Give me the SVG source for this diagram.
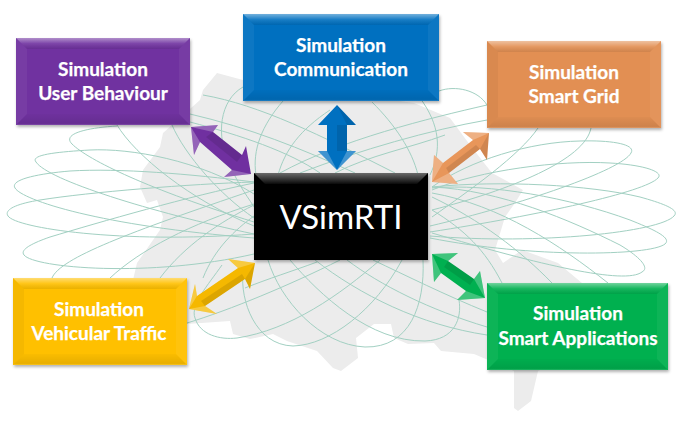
<svg xmlns="http://www.w3.org/2000/svg" width="682" height="422" viewBox="0 0 682 422">
<style>
.lbl{font-family:"Lato","Open Sans","Liberation Sans",sans-serif;font-weight:700;font-size:19px;fill:#fff;text-anchor:middle;stroke:#fff;stroke-width:.25}
.ttl{font-family:"Lato","Open Sans","Liberation Sans",sans-serif;font-size:33px;fill:#fff;text-anchor:middle}
.p{fill:none;stroke:#a2d0c2;stroke-width:1}
.hi{fill:#fff;opacity:.25}
.lo{fill:#000;opacity:.1}
.tp{fill:url(#tg)}
.bt{fill:url(#bg)}
.sd{fill:#fff;opacity:.05}
.sdk{fill:#000;opacity:.04}
</style>
<defs>
<filter id="sh" x="-10%" y="-10%" width="120%" height="125%"><feDropShadow dx="1" dy="2" stdDeviation="1.5" flood-color="#000" flood-opacity=".3"/></filter>
<linearGradient id="tg" x1="0" y1="0" x2="0" y2="1"><stop offset="0" stop-color="#fff" stop-opacity=".45"/><stop offset=".5" stop-color="#fff" stop-opacity=".1"/><stop offset="1" stop-color="#000" stop-opacity=".08"/></linearGradient>
<linearGradient id="bg" x1="0" y1="0" x2="0" y2="1"><stop offset="0" stop-color="#000" stop-opacity=".02"/><stop offset=".85" stop-color="#000" stop-opacity=".09"/><stop offset="1" stop-color="#fff" stop-opacity=".15"/></linearGradient>
<linearGradient id="kg" x1="0" y1="0" x2="0" y2="1"><stop offset="0" stop-color="#6a6a6a"/><stop offset="1" stop-color="#0a0a0a"/></linearGradient>
</defs>
<rect width="682" height="422" fill="#fff"/>
<path id="map" fill="#ececec" d="M217 73L243 80L414 103L450 118L470 145L492 173L523 190L515 203L505 217L495 250L503 263L522 250L558 263L582 283L600 340L538 371L531 401L518 411L514 408L514 371L474 354L441 351L434 343L408 344L394 338L391 324L374 324L356 338L358 358L341 371L333 368L317 351L287 341L273 334L250 339L233 334L230 321L187 324L133 280L137 263L160 230L163 217L157 200L147 203L140 187L143 170L160 147L163 133L200 100L203 90Z"/>
<g id="pattern">
<path class="p" d="M117 126C85 128 62 134 72 144C88 160 150 190 254 222"/>
<path class="p" d="M254 194C200 160 130 148 90 150C55 152 30 155 36 162C48 180 150 212 254 234"/>
<path class="p" d="M254 182C190 174 120 168 70 171C35 174 10 180 15 188C22 200 100 226 254 238"/>
<path class="p" d="M254 182C190 184 90 192 40 200C15 204 4 210 8 216C16 228 120 244 254 234"/>
<path class="p" d="M254 183C190 196 100 222 50 237C30 244 20 250 24 255C34 268 150 278 254 254"/>
<path class="p" d="M52 278C60 258 130 232 254 190"/>
<path class="p" d="M110 278C140 250 190 224 254 204"/>
<path class="p" d="M160 278C185 245 220 222 254 205"/>
<path class="p" d="M203 278C215 248 235 230 254 216"/>
<path class="p" d="M117 125C135 155 190 200 254 226"/>
<path class="p" d="M172 125C185 155 220 195 254 218"/>
<path class="p" d="M243 87C220 100 215 135 230 165C238 185 250 200 256 210"/>
<path class="p" d="M283 101C262 125 252 150 256 175"/>
<path class="p" d="M330 110C300 130 285 150 278 175"/>
<path class="p" d="M372 102C395 125 412 150 418 175"/>
<path class="p" d="M420 98C440 125 442 150 430 175"/>
<path class="p" d="M439 91C455 85 478 90 487 105"/>
<path class="p" d="M203 95C260 105 320 135 395 173"/>
<path class="p" d="M190 114C250 128 300 148 355 173"/>
<path class="p" d="M190 122C240 135 290 152 320 173"/>
<path class="p" d="M487 105C430 118 340 140 280 173"/>
<path class="p" d="M487 120C430 130 360 150 300 173"/>
<path class="p" d="M445 135C410 148 370 155 335 173"/>
<path class="p" d="M432 187C470 160 530 142 580 141C615 140 636 145 631 153C622 170 520 205 430 226"/>
<path class="p" d="M432 190C480 170 560 160 610 163C645 165 664 172 658 178C645 192 540 215 430 232"/>
<path class="p" d="M432 187C500 180 590 185 640 197C665 204 680 210 674 216C660 232 540 245 430 236"/>
<path class="p" d="M432 188C490 183 570 198 630 220C655 230 672 238 665 244C650 256 530 258 430 238"/>
<path class="p" d="M432 187C500 190 570 220 620 245C640 257 650 268 642 272C625 285 540 265 432 233"/>
<path class="p" d="M608 283C560 245 500 205 432 193"/>
<path class="p" d="M552 283C520 250 480 220 432 197"/>
<path class="p" d="M502 283C485 250 465 230 432 210"/>
<path class="p" d="M538 128C520 155 470 190 432 217"/>
<path class="p" d="M591 128C585 160 510 190 432 210"/>
<path class="p" d="M222 265C208 285 190 305 195 318C200 335 220 340 237 338C290 330 340 295 380 260"/>
<path class="p" d="M243 272C240 300 255 345 293 346C330 345 375 310 402 260"/>
<path class="p" d="M268 260C280 300 320 345 365 347C410 348 425 305 423 260"/>
<path class="p" d="M290 260C320 295 370 342 425 341C455 340 462 318 459 300"/>
<path class="p" d="M187 323C230 310 290 285 340 260"/>
<path class="p" d="M317 262C290 272 270 278 245 288"/>
<path class="p" d="M315 260C360 295 420 325 487 335"/>
<path class="p" d="M347 260C380 285 430 310 487 327"/>
<path class="p" d="M373 260C405 275 445 295 487 312"/>
</g>
<g id="connectors">
<g id="arrow-user">
<polygon fill="#7030a0" points="191,127 218,125 213,132 242,155 246,146 251,174 224,177 232,170 200,142 194,155"/>
<polygon class="hi" points="191,127 218,125 213,132"/><polygon class="hi" points="191,127 194,155 200,142"/>
<polygon class="hi" points="251,174 224,177 232,170"/>
<polygon class="lo" points="206,137 213,132 242,155 237,162"/>
</g>
<g id="arrow-comm">
<polygon fill="#0070c0" points="337,105 356,125 347,125 347,151 356,151 337,170 318,151 327,151 327,125 318,125"/>
<polygon class="hi" points="318,151 327,151 337,170"/><polygon class="hi" points="356,151 347,151 337,170"/>
<polygon class="lo" points="337,105 356,125 347,125"/>
<polygon class="lo" points="337,125 347,125 347,151 337,151"/>
</g>
<g id="arrow-grid">
<polygon fill="#e8965a" points="489,133 463,132 473,140 443,163 434,155 432,182 458,184 449,173 480,149 487,160"/>
<polygon class="hi" points="489,133 463,132 473,140"/><polygon class="lo" points="489,133 487,160 480,149"/>
<polygon class="hi" points="432,182 434,155 443,163"/><polygon class="hi" points="432,182 458,184 449,173"/>
<polygon class="lo" points="476,145 480,149 449,173 446,168"/>
</g>
<g id="arrow-traffic">
<polygon fill="#f5b800" points="255,263 228,259 238,268 197,296 195,284 189,309 217,314 205,306 245,279 250,289"/>
<polygon class="hi" points="255,263 228,259 238,268"/><polygon class="lo" points="255,263 250,289 245,279"/>
<polygon class="hi" points="189,309 195,284 197,296"/><polygon class="hi" points="189,309 217,314 205,306"/>
<polygon class="lo" points="242,274 245,279 205,306 201,301"/>
</g>
<g id="arrow-apps">
<polygon fill="#00b050" points="432,254 458,253 448,261 474,279 480,271 485,298 457,300 466,291 441,273 434,282"/>
<polygon class="hi" points="432,254 458,253 448,261"/><polygon class="hi" points="432,254 434,282 441,273"/>
<polygon class="hi" points="485,298 480,271 474,279"/><polygon class="hi" points="485,298 457,300 466,291"/>
<polygon class="lo" points="444,267 448,261 474,279 470,285"/>
</g>
</g>
<g id="node-user">
<rect x="16" y="38" width="174" height="87" fill="#7030a0" filter="url(#sh)"/>
<polygon class="tp" points="16,38 190,38 179,49 27,49"/>
<polygon class="sd" points="16,38 27,49 27,114 16,125"/>
<polygon class="sd" points="190,38 179,49 179,114 190,125"/>
<polygon class="bt" points="16,125 27,114 179,114 190,125"/>
<text class="lbl" x="103" y="76">Simulation</text>
<text class="lbl" x="103" y="100">User Behaviour</text>
</g>
<g id="node-comm">
<rect x="243" y="14" width="196" height="87" fill="#0070c0" filter="url(#sh)"/>
<polygon class="tp" points="243,14 439,14 428,25 254,25"/>
<polygon class="sd" points="243,14 254,25 254,90 243,101"/>
<polygon class="sd" points="439,14 428,25 428,90 439,101"/>
<polygon class="bt" points="243,101 254,90 428,90 439,101"/>
<text class="lbl" x="341" y="52">Simulation</text>
<text class="lbl" x="341" y="76">Communication</text>
</g>
<g id="node-grid">
<rect x="487" y="41" width="174" height="87" fill="#e28f52" filter="url(#sh)"/>
<polygon class="tp" points="487,41 661,41 650,52 498,52"/>
<polygon class="sd" points="661,41 650,52 650,117 661,128"/>
<polygon class="sdk" points="487,41 498,52 498,117 487,128"/>
<polygon class="bt" points="487,128 498,117 650,117 661,128"/>
<text class="lbl" x="574" y="79">Simulation</text>
<text class="lbl" x="574" y="103">Smart Grid</text>
</g>
<g id="node-traffic">
<rect x="13" y="278" width="174" height="87" fill="#ffc000" filter="url(#sh)"/>
<polygon class="tp" points="13,278 187,278 176,289 24,289"/>
<polygon class="sdk" points="13,278 24,289 24,354 13,365"/>
<polygon class="sd" points="187,278 176,289 176,354 187,365"/>
<polygon class="bt" points="13,365 24,354 176,354 187,365"/>
<text class="lbl" x="99" y="316">Simulation</text>
<text class="lbl" x="99" y="340">Vehicular Traffic</text>
</g>
<g id="node-apps">
<rect x="487" y="283" width="181" height="87" fill="#00b050" filter="url(#sh)"/>
<polygon class="tp" points="487,283 668,283 657,294 498,294"/>
<polygon class="sd" points="487,283 498,294 498,359 487,370"/>
<polygon class="sd" points="668,283 657,294 657,359 668,370"/>
<polygon class="bt" points="487,370 498,359 657,359 668,370"/>
<text class="lbl" x="578" y="320">Simulation</text>
<text class="lbl" x="578" y="345">Smart Applications</text>
</g>
<g id="node-vsimrti">
<rect x="254" y="173" width="174" height="87" fill="#000" filter="url(#sh)"/>
<polygon fill="url(#kg)" points="254,173 428,173 417,184 265,184"/>
<text class="ttl" x="341" y="229">VSimRTI</text>
</g>
</svg>
